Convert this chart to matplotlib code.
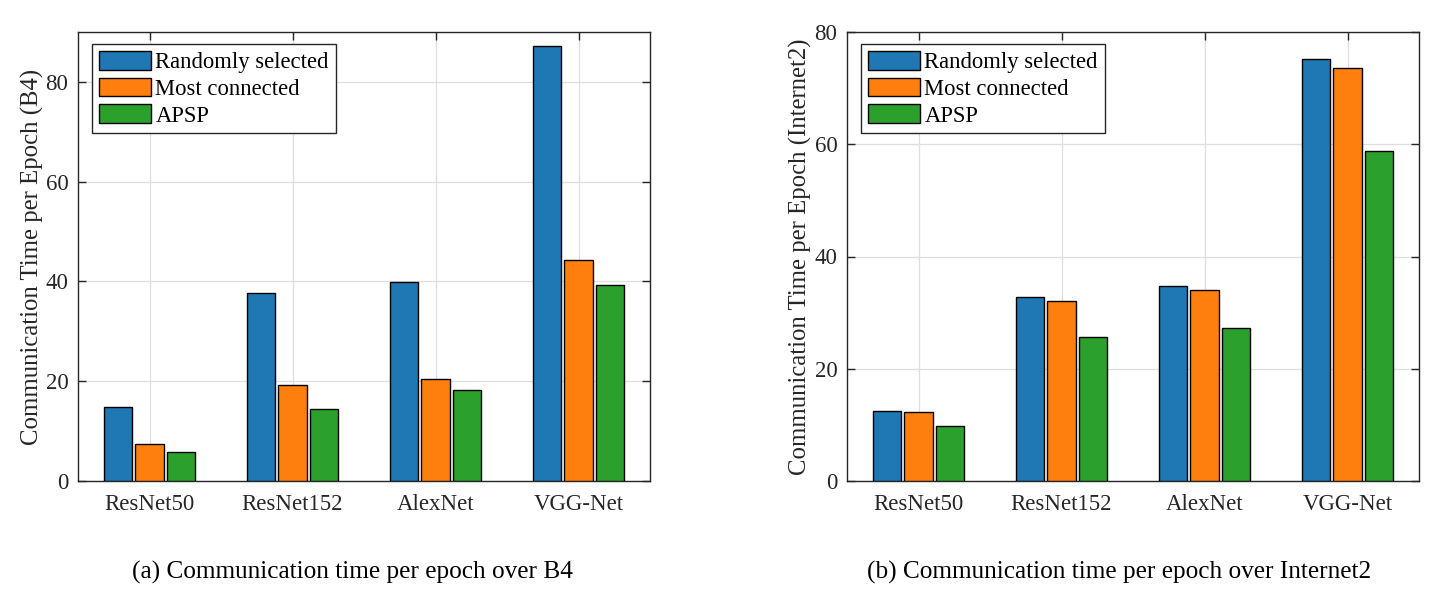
import matplotlib
matplotlib.use("Agg")
import matplotlib.pyplot as plt
import numpy as np

plt.rcParams['font.family'] = ['Liberation Serif', 'DejaVu Serif']

categories = ["ResNet50", "ResNet152", "AlexNet", "VGG-Net"]
series_names = ["Randomly selected", "Most connected", "APSP"]
colors = ["#1f77b4", "#ff7f0e", "#2ca02c"]

# Left chart: B4
b4_random = [14.8, 37.6, 39.8, 87.2]
b4_most = [7.4, 19.2, 20.4, 44.2]
b4_apsp = [5.8, 14.4, 18.2, 39.2]

# Right chart: Internet2
i2_random = [12.4, 32.7, 34.8, 75.2]
i2_most = [12.3, 32.0, 34.1, 73.6]
i2_apsp = [9.8, 25.6, 27.2, 58.8]

yticks_left = [0, 20, 40, 60, 80]
yticks_right = [0, 20, 40, 60, 80]

W, H = 1450, 607
fig = plt.figure(figsize=(W / 100, H / 100), dpi=100)


def px_axes(left, top, right, bottom):
    return fig.add_axes([left / W, (H - bottom) / H, (right - left) / W, (bottom - top) / H])


def draw(ax, data, ylim, yticks, ylabel, label_x, caption, cap_x):
    x = np.arange(1, len(categories) + 1)
    offsets = [-0.222, 0.0, 0.222]
    for vals, name, col, off in zip(data, series_names, colors, offsets):
        ax.bar(x + off, vals, width=0.198, color=col, edgecolor='black',
               linewidth=1.0, label=name, zorder=3)
    ax.set_xlim(0.5, 4.5)
    ax.set_ylim(*ylim)
    ax.set_xticks(x)
    ax.set_xticklabels(categories)
    ax.set_yticks(yticks)
    ax.grid(True, color='#dedede', linewidth=0.9, zorder=0)
    ax.set_axisbelow(True)
    ax.tick_params(direction='in', top=True, right=True, length=6, width=1,
                   labelsize=16.5, colors='#262626', pad=7)
    ax.tick_params(axis='x', pad=9)
    for s in ax.spines.values():
        s.set_color('#262626')
        s.set_linewidth(1.0)
    ax.set_ylabel(ylabel, fontsize=17.8, color='#262626')
    ax.yaxis.set_label_coords(label_x, 0.5)
    leg = ax.legend(loc='upper left', bbox_to_anchor=(0.0245, 0.973),
                    borderaxespad=0, fontsize=16.3, handlelength=2.3,
                    handleheight=0.9, handletextpad=0.2, labelspacing=0.2,
                    borderpad=0.3, fancybox=False, framealpha=1,
                    edgecolor='#262626')
    leg.get_frame().set_linewidth(1.0)
    fig.text(cap_x / W, (H - 572) / H, caption, fontsize=18.2, ha='center',
             va='center', color='black')


ax1 = px_axes(78, 32, 650, 481)
draw(ax1, [b4_random, b4_most, b4_apsp], (0, 90), yticks_left,
     "Communication Time per Epoch (B4)", -0.059,
     "(a) Communication time per epoch over B4", 352)

ax2 = px_axes(847, 32, 1419, 481)
draw(ax2, [i2_random, i2_most, i2_apsp], (0, 80), yticks_right,
     "Communication Time per Epoch (Internet2)", -0.061,
     "(b) Communication time per epoch over Internet2", 1119)

fig.savefig("out.png", dpi=100)
